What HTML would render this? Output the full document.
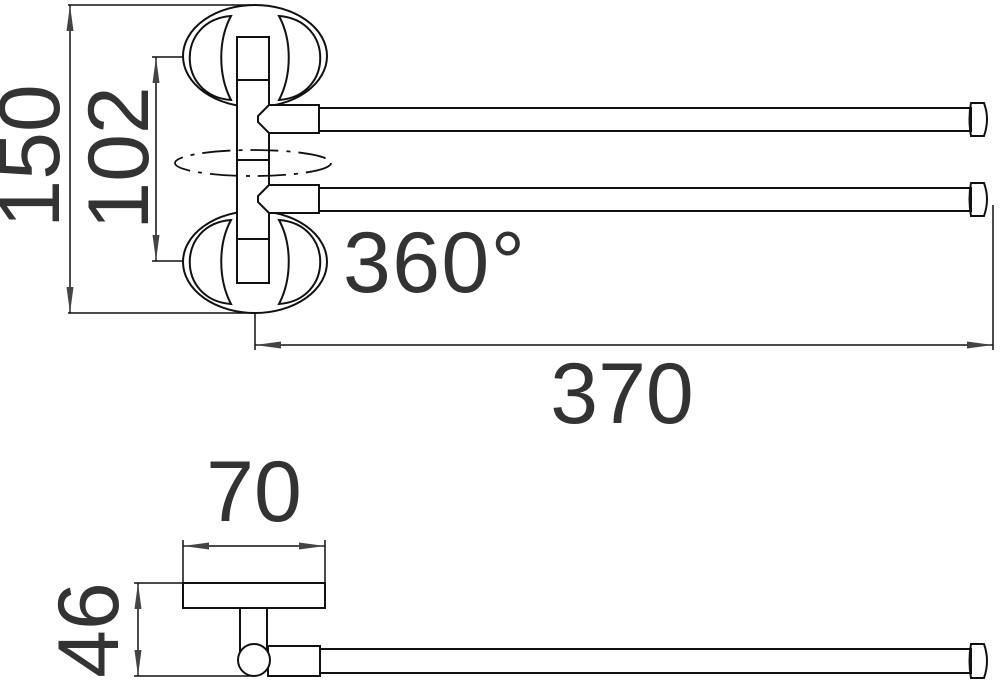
<!DOCTYPE html>
<html><head><style>html,body{margin:0;padding:0;background:#fff}svg{display:block}</style></head><body>
<svg width="1000" height="687" viewBox="0 0 1000 687" xmlns="http://www.w3.org/2000/svg">
<defs>
<marker id="a" viewBox="0 0 26 8" refX="26" refY="4" markerWidth="26" markerHeight="8" markerUnits="userSpaceOnUse" orient="auto-start-reverse"><path d="M0,0.5 L26,4 L0,7.5 Z" fill="#444"/></marker>
</defs>
<g fill="none" stroke="#111" stroke-width="2">
<ellipse cx="255" cy="56" rx="72" ry="51"/>
<path d="M231,16 C176,20 176,96 231,100 C218,75 218,40 231,16 Z"/>
<path d="M279,16 C334,20 334,96 279,100 C292,75 292,40 279,16 Z"/>
<ellipse cx="255" cy="262" rx="72" ry="51"/>
<path d="M231,220 C176,224 176,300 231,304 C218,279 218,244 231,220 Z"/>
<path d="M279,220 C334,224 334,300 279,304 C292,279 292,244 279,220 Z"/>
<rect x="237" y="37" width="32" height="246" fill="#fff"/>
<line x1="237" y1="80" x2="269" y2="80"/>
<line x1="237" y1="160" x2="269" y2="160"/>
<line x1="237" y1="239" x2="269" y2="239"/>
<path d="M269,105 L319,105 L319,133 L269,133 L258,122 L258,116 Z" fill="#fff"/>
<rect x="319" y="108" width="652" height="23"/>
<path d="M971,103 L984,103 Q990,119 984,136 L971,136 Q968,119 971,103 Z"/>
<path d="M269,185 L319,185 L319,213 L269,213 L258,202 L258,196 Z" fill="#fff"/>
<rect x="319" y="188" width="652" height="23"/>
<path d="M971,183 L984,183 Q990,199 984,216 L971,216 Q968,199 971,183 Z"/>
<ellipse cx="253" cy="163" rx="78" ry="13" stroke-dasharray="28,8,4,8" stroke-width="1.8"/>
</g>
<g stroke="#111" stroke-width="1.5" fill="none">
<line x1="68" y1="5" x2="250" y2="5"/>
<line x1="68" y1="313" x2="255" y2="313"/>
<line x1="70" y1="5" x2="70" y2="313" marker-start="url(#a)" marker-end="url(#a)"/>
<line x1="152" y1="57" x2="183" y2="57"/>
<line x1="152" y1="261" x2="183" y2="261"/>
<line x1="156" y1="57" x2="156" y2="261" marker-start="url(#a)" marker-end="url(#a)"/>
<line x1="255" y1="313" x2="255" y2="350"/>
<line x1="993" y1="205" x2="993" y2="350"/>
<line x1="255" y1="345" x2="993" y2="345" marker-start="url(#a)" marker-end="url(#a)"/>
<line x1="183" y1="540" x2="183" y2="583"/>
<line x1="325" y1="540" x2="325" y2="583"/>
<line x1="183" y1="546" x2="325" y2="546" marker-start="url(#a)" marker-end="url(#a)"/>
<line x1="134" y1="583" x2="183" y2="583"/>
<line x1="134" y1="676" x2="253" y2="676"/>
<line x1="138" y1="583" x2="138" y2="676" marker-start="url(#a)" marker-end="url(#a)"/>
</g>
<g fill="none" stroke="#111" stroke-width="2">
<rect x="183" y="583" width="142" height="25"/>
<rect x="240" y="608" width="27" height="45"/>
<rect x="268" y="646" width="52" height="30"/>
<rect x="320" y="649" width="651" height="24"/>
<path d="M971,644 L984,644 Q990,661 984,678 L971,678 Q968,661 971,644 Z"/>
<circle cx="254" cy="660" r="16" fill="#fff"/>
</g>
<g font-family="Liberation Sans, Arial, sans-serif" font-size="86" fill="#333">
<text x="622" y="423" text-anchor="middle">370</text>
<text x="343" y="292" textLength="182">360°</text>
<text x="254" y="521" text-anchor="middle">70</text>
<text transform="translate(59,156) rotate(-90)" text-anchor="middle">150</text>
<text transform="translate(148,158) rotate(-90)" text-anchor="middle">102</text>
<text transform="translate(118,630) rotate(-90)" text-anchor="middle">46</text>
</g>
</svg>
</body></html>
